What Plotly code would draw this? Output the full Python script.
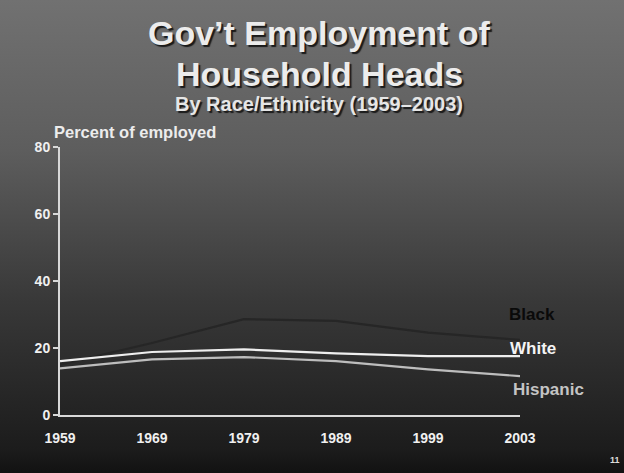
import plotly.graph_objects as go

years = ["1959", "1969", "1979", "1989", "1999", "2003"]
black = [15.0, 21.5, 28.6, 28.1, 24.6, 22.4]
white = [16.1, 18.8, 19.6, 18.4, 17.6, 17.6]
hispanic = [13.9, 16.6, 17.3, 16.1, 13.6, 11.6]
y_ticks = [0, 20, 40, 60, 80]

W, H = 624, 473
L, R, T, B = 60, 104, 147, 58
PW, PH = W - L - R, H - T - B
FONT = "Liberation Sans, Arial, sans-serif"

def px(x):
    return (x - L) / PW

def py(y):
    return (H - B - y) / PH

fig = go.Figure()
fig.add_trace(go.Scatter(x=years, y=black, mode="lines", line=dict(color="#262626", width=2.2), showlegend=False))
fig.add_trace(go.Scatter(x=years, y=white, mode="lines", line=dict(color="#eeeeee", width=2.2), showlegend=False))
fig.add_trace(go.Scatter(x=years, y=hispanic, mode="lines", line=dict(color="#bdbdbd", width=2.2), showlegend=False))

svg = ("data:image/svg+xml;utf8,<svg xmlns='http://www.w3.org/2000/svg' width='624' height='473'>"
       "<defs><linearGradient id='g' x1='0' y1='0' x2='0' y2='1'>"
       "<stop offset='0' stop-color='%23717171'/>"
       "<stop offset='0.32' stop-color='%235d5d5d'/>"
       "<stop offset='0.63' stop-color='%23393939'/>"
       "<stop offset='0.95' stop-color='%231c1c1c'/>"
       "<stop offset='1' stop-color='%23121212'/>"
       "</linearGradient></defs><rect width='624' height='473' fill='url(%23g)'/></svg>")

fig.add_layout_image(dict(source=svg, xref="paper", yref="paper", x=-L / PW, y=1 + T / PH,
                          sizex=W / PW, sizey=H / PH, sizing="stretch", xanchor="left", yanchor="top",
                          layer="below"))

anns = []
def text(x, y, s, size, color, shadow=None, xanchor="center"):
    f = dict(family=FONT, size=size, color=color, weight="bold")
    if shadow:
        f["shadow"] = shadow
    anns.append(dict(x=px(x), y=py(y), xref="paper", yref="paper", text=s, showarrow=False,
                     xanchor=xanchor, yanchor="middle", font=f))

text(319, 33, "Gov’t Employment of", 34, "#ececec", shadow="2px 2px 1px #1a1a1a")
text(319, 74, "Household Heads", 34, "#ececec", shadow="2px 2px 1px #1a1a1a")
text(319, 104, "By Race/Ethnicity (1959–2003)", 20, "#e6e6e6", shadow="2px 2px 1px #1a1a1a")
text(52, 132, "Percent of employed", 16.5, "#ececec", xanchor="left")
text(532, 314, "Black", 17, "#0a0a0a")
text(533, 348, "White", 17, "#f4f4f4")
text(548, 389, "Hispanic", 17, "#c4c4c4")
text(615, 460, "11", 9, "#dddddd")

fig.update_layout(
    width=W, height=H,
    margin=dict(l=L, r=R, t=T, b=B, pad=0),
    paper_bgcolor="#3a3a3a",
    plot_bgcolor="rgba(0,0,0,0)",
    annotations=anns,
    xaxis=dict(type="category", range=[0, 5], showgrid=False, zeroline=False,
               showline=True, linecolor="#d8d8d8", linewidth=2, ticks="",
               ticklabelstandoff=9,
               tickfont=dict(family=FONT, size=14, color="#f0f0f0", weight="bold")),
    yaxis=dict(range=[0, 80], tickvals=y_ticks, showgrid=False, zeroline=False,
               showline=True, linecolor="#d8d8d8", linewidth=2, ticks="outside",
               ticklen=5, tickwidth=1.5, tickcolor="#d8d8d8",
               tickfont=dict(family=FONT, size=14, color="#f0f0f0", weight="bold")),
)

fig.write_html("out.html", config={"displayModeBar": False},
               post_script="document.body.style.margin='0';document.body.style.overflow='hidden';")
